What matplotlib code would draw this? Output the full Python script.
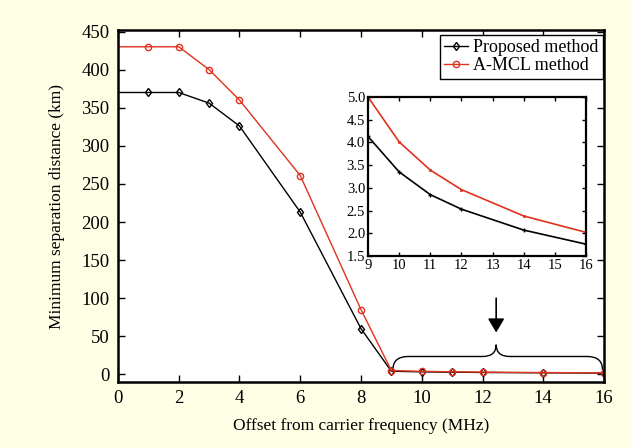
import numpy as np
import matplotlib
matplotlib.use("Agg")
import matplotlib.pyplot as plt
from matplotlib.path import Path
from matplotlib.patches import PathPatch

plt.rcParams['font.family'] = ['Liberation Serif', 'DejaVu Serif']

# offset from carrier (MHz)
offset = [0, 1, 2, 3, 4, 6, 8, 9, 10, 11, 12, 14, 16]
# minimum separation distance (km)
proposed = [370, 370, 370, 356, 326, 213, 60, 4.13, 3.35, 2.85, 2.53, 2.07, 1.76]
amcl = [430, 430, 430, 400, 360, 261, 85, 5.0, 4.01, 3.39, 2.96, 2.38, 2.02]

xticks = [0, 2, 4, 6, 8, 10, 12, 14, 16]
yticks = [0, 50, 100, 150, 200, 250, 300, 350, 400, 450]
inset_xticks = [9, 10, 11, 12, 13, 14, 15, 16]
inset_yticks = [1.5, 2.0, 2.5, 3.0, 3.5, 4.0, 4.5, 5.0]

RED = '#E0321C'
BG = '#FFFFE6'

fig = plt.figure(figsize=(6.32, 4.48), dpi=100, facecolor=BG)
ax = fig.add_axes([0.1867, 0.1473, 0.769, 0.7857])

ax.plot(offset, proposed, color='black', lw=1.0, marker='d', ms=4.5, mfc='none',
        mew=1.0, markevery=list(range(1, len(offset))), label='Proposed method')
ax.plot(offset, amcl, color=RED, lw=1.0, marker='o', ms=4.5, mfc='none',
        mew=1.0, markevery=list(range(1, len(offset))), label='A-MCL method')

ax.set_xlim(0, 16)
ax.set_ylim(-10, 452)
ax.set_xticks(xticks)
ax.set_yticks(yticks)
ax.tick_params(direction='in', length=5, width=1.0, top=True, right=True,
               labelsize=13.5, pad=6)
for s in ax.spines.values():
    s.set_linewidth(1.8)
ax.set_xlabel('Offset from carrier frequency (MHz)', fontsize=12.5, labelpad=8)
ax.set_ylabel('Minimum separation distance (km)', fontsize=12.5, labelpad=12)

leg = ax.legend(loc='upper right', bbox_to_anchor=(0.998, 0.986), borderaxespad=0,
                fontsize=13, handlelength=1.3, handletextpad=0.3, labelspacing=0.05,
                borderpad=0.25, fancybox=False, framealpha=1, edgecolor='black')
leg.get_frame().set_linewidth(1.0)

# arrow pointing to the zoomed range
ax.annotate('', xy=(12.45, 55), xytext=(12.45, 100),
            arrowprops=dict(arrowstyle='-|>,head_width=0.25,head_length=0.42',
                            mutation_scale=20, shrinkA=0, shrinkB=0,
                            color='black', lw=1.2))

# curly brace over 9..16 MHz
xl, xr, xm = 9.05, 15.95, 12.45
y0, y1, y2 = 6, 23.5, 39
verts = [(xl, y0), (xl, y1), (xl + 0.5, y1),
         (xm - 0.45, y1),
         (xm, y1), (xm, y2),
         (xm, y1), (xm + 0.45, y1),
         (xr - 0.5, y1),
         (xr, y1), (xr, y0)]
codes = [Path.MOVETO, Path.CURVE3, Path.CURVE3,
         Path.LINETO,
         Path.CURVE3, Path.CURVE3,
         Path.CURVE3, Path.CURVE3,
         Path.LINETO,
         Path.CURVE3, Path.CURVE3]
ax.add_patch(PathPatch(Path(verts, codes), fill=False, lw=1.0, color='black'))

# inset
axi = fig.add_axes([0.5823, 0.4286, 0.345, 0.355])
axi.plot(offset[7:], proposed[7:], color='black', lw=1.2, marker='+', ms=3, mew=1.0)
axi.plot(offset[7:], amcl[7:], color=RED, lw=1.2, marker='s', ms=2, mew=0.5)
axi.set_xlim(9, 16)
axi.set_ylim(1.5, 5.0)
axi.set_xticks(inset_xticks)
axi.set_yticks(inset_yticks)
axi.set_yticklabels([f'{v:.1f}' for v in inset_yticks])
axi.tick_params(direction='in', length=3, width=1.0, top=True, right=True,
                labelsize=10.5, pad=2)
for s in axi.spines.values():
    s.set_linewidth(1.6)

fig.savefig('out.png', dpi=100, facecolor=BG)
